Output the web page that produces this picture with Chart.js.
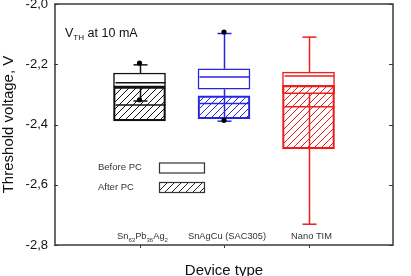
<!DOCTYPE html>
<html>
<head>
<meta charset="utf-8">
<script src="https://cdn.jsdelivr.net/npm/chart.js@4/dist/chart.umd.min.js"></script>
<style>
  html, body { margin: 0; padding: 0; background: #fff; overflow: hidden; }
  #wrap { width: 411px; height: 276px; overflow: hidden; }
  canvas { display: block; }
</style>
</head>
<body>
<div id="wrap"><canvas id="myChart" width="411" height="290"></canvas></div>
<script>
var categories = ["Sn_{63}Pb_{36}Ag_{2}", "SnAgCu (SAC305)", "Nano TIM"];
var seriesColors = ["#111111", "#2626e2", "#ee1d1d"];
// before PC boxes [low, high] and medians
var beforeBox = [[-2.275, -2.229], [-2.283, -2.215], [-2.298, -2.226]];
var beforeMedian = [-2.261, -2.242, -2.239];
// after PC boxes (hatched)
var afterBox = [[-2.388, -2.275], [-2.381, -2.305], [-2.481, -2.270]];
var afterMedian = [-2.335, -2.330, -2.341];
var upperWhisker = [-2.202, -2.098, -2.110];
var lowerWhisker = [-2.322, -2.389, -2.731];
var dotCategory = [1, 1, 2, 2];
var dotValues = [-2.196, -2.318, -2.093, -2.386];
var yTicks = [-2.8, -2.6, -2.4, -2.2, -2.0];
var legendLabels = ["Before PC", "After PC"];
var noteText = "V_{TH} at 10 mA";

var FONT = "'Liberation Sans', Arial, sans-serif";
var BOX_W = 52;
var CAP_W = 14;

function hatch(color) {
  var c = document.createElement("canvas");
  c.width = 7; c.height = 7;
  var g = c.getContext("2d");
  g.strokeStyle = color;
  g.lineWidth = 1;
  g.beginPath();
  g.moveTo(0, 7); g.lineTo(7, 0);
  g.moveTo(-1, 1); g.lineTo(1, -1);
  g.moveTo(6, 8); g.lineTo(8, 6);
  g.stroke();
  return g.createPattern(c, "repeat");
}

function richParts(text) {
  var parts = [], re = /_\{([^}]*)\}/g, last = 0, m;
  while ((m = re.exec(text))) {
    if (m.index > last) parts.push({ t: text.slice(last, m.index), sub: false });
    parts.push({ t: m[1], sub: true });
    last = re.lastIndex;
  }
  if (last < text.length) parts.push({ t: text.slice(last), sub: false });
  return parts;
}

function drawRich(ctx, text, x, y, size, align, color) {
  var parts = richParts(text);
  var w = 0;
  parts.forEach(function (p) {
    ctx.font = (p.sub ? size * 0.65 : size) + "px " + FONT;
    p.w = ctx.measureText(p.t).width;
    w += p.w;
  });
  var cx = align === "center" ? x - w / 2 : x;
  ctx.textAlign = "left";
  ctx.textBaseline = "alphabetic";
  ctx.fillStyle = color;
  parts.forEach(function (p) {
    ctx.font = (p.sub ? size * 0.65 : size) + "px " + FONT;
    ctx.fillText(p.t, cx, p.sub ? y + size * 0.28 : y);
    cx += p.w;
  });
}

function line(ctx, x1, y1, x2, y2) {
  ctx.beginPath();
  ctx.moveTo(x1, y1);
  ctx.lineTo(x2, y2);
  ctx.stroke();
}

var extras = {
  id: "extras",
  beforeDatasetsDraw: function (chart) {
    var ctx = chart.ctx, xs = chart.scales.x, ys = chart.scales.y;
    ctx.save();
    ctx.lineWidth = 1.5;
    categories.forEach(function (c, i) {
      var x = Math.round(xs.getPixelForValue(i + 1)) + 0.5;
      ctx.strokeStyle = seriesColors[i];
      var yTop = ys.getPixelForValue(upperWhisker[i]);
      var yBot = ys.getPixelForValue(lowerWhisker[i]);
      line(ctx, x, ys.getPixelForValue(beforeBox[i][1]), x, yTop);
      line(ctx, x - CAP_W / 2, yTop, x + CAP_W / 2, yTop);
      line(ctx, x, ys.getPixelForValue(beforeBox[i][0]), x, yBot);
      line(ctx, x - CAP_W / 2, yBot, x + CAP_W / 2, yBot);
    });
    ctx.restore();
  },
  afterDatasetsDraw: function (chart) {
    var ctx = chart.ctx, xs = chart.scales.x, ys = chart.scales.y, a = chart.chartArea;
    ctx.save();
    // medians
    ctx.lineWidth = 1.5;
    categories.forEach(function (c, i) {
      var x = Math.round(xs.getPixelForValue(i + 1)) + 0.5;
      ctx.strokeStyle = seriesColors[i];
      [beforeMedian[i], afterMedian[i]].forEach(function (m) {
        var y = ys.getPixelForValue(m);
        line(ctx, x - BOX_W / 2 + 1, y, x + BOX_W / 2 - 1, y);
      });
    });
    // frame and ticks
    ctx.strokeStyle = "#3a3a3a";
    ctx.lineWidth = 1.5;
    ctx.strokeRect(a.left, a.top, a.right - a.left, a.bottom - a.top);
    ctx.lineWidth = 1;
    yTicks.forEach(function (v) {
      var y = Math.round(ys.getPixelForValue(v)) + 0.5;
      line(ctx, a.left - 1, y, a.left + 3, y);
      line(ctx, a.right - 4, y, a.right, y);
    });
    categories.forEach(function (c, i) {
      var x = Math.round(xs.getPixelForValue(i + 1)) + 0.5;
      line(ctx, x, a.bottom, x, a.bottom + 3);
    });
    // category labels inside the plot
    categories.forEach(function (c, i) {
      drawRich(ctx, c, xs.getPixelForValue(i + 1) + 3, a.bottom - 6, 9.3, "center", "#333");
    });
    // annotation
    drawRich(ctx, noteText, a.left + 10, 36.5, 12.5, "left", "#111");
    // legend
    ctx.font = "9.5px " + FONT;
    ctx.fillStyle = "#333";
    ctx.textAlign = "left";
    ctx.textBaseline = "middle";
    ctx.fillText(legendLabels[0], 98, 167.5);
    ctx.fillText(legendLabels[1], 98, 187.5);
    ctx.strokeStyle = "#333";
    ctx.lineWidth = 1.2;
    ctx.fillStyle = "#fff";
    ctx.fillRect(159.5, 163, 45, 10);
    ctx.strokeRect(159.5, 163, 45, 10);
    ctx.fillStyle = hatch("#222");
    ctx.fillRect(159.5, 182.5, 45, 10);
    ctx.strokeRect(159.5, 182.5, 45, 10);
    ctx.restore();
  }
};

var ctx = document.getElementById("myChart");
var hatchFills = seriesColors.map(function (c) { return hatch(c); });

var myChart = new Chart(ctx, {
  type: "bar",
  data: {
    datasets: [
      {
        type: "scatter",
        label: "points",
        data: dotValues.map(function (v, i) { return { x: dotCategory[i], y: v }; }),
        pointRadius: 2.6,
        pointBackgroundColor: "#000",
        pointBorderWidth: 0,
        order: 1
      },
      {
        label: legendLabels[1],
        data: afterBox.map(function (b, i) { return { x: i + 1, y: b }; }),
        backgroundColor: hatchFills,
        borderColor: seriesColors,
        borderWidth: 1.5,
        borderSkipped: false,
        barThickness: BOX_W,
        grouped: false,
        order: 2
      },
      {
        label: legendLabels[0],
        data: beforeBox.map(function (b, i) { return { x: i + 1, y: b }; }),
        backgroundColor: "#fff",
        borderColor: seriesColors,
        borderWidth: 1.5,
        borderSkipped: false,
        barThickness: BOX_W,
        grouped: false,
        order: 3
      }
    ]
  },
  options: {
    responsive: false,
    animation: false,
    devicePixelRatio: 1,
    layout: { padding: { top: 1.5, right: 18, left: 0, bottom: 0 } },
    plugins: { legend: { display: false }, tooltip: { enabled: false } },
    scales: {
      x: {
        type: "linear",
        min: 0,
        max: 4,
        offset: false,
        grid: { display: false, drawTicks: false, offset: false },
        border: { display: false },
        ticks: { display: false },
        title: {
          display: true,
          text: "Device type",
          color: "#111",
          font: { family: FONT, size: 15 },
          padding: { top: 0, bottom: 10 }
        },
        afterFit: function (s) { s.height = 45; s.paddingLeft = 0; s.paddingRight = 0; }
      },
      y: {
        min: -2.8,
        max: -2.0,
        grid: { display: false, drawTicks: false },
        border: { display: false },
        afterBuildTicks: function (s) { s.ticks = yTicks.map(function (v) { return { value: v }; }); },
        ticks: {
          padding: 7,
          color: "#111",
          font: { family: FONT, size: 13 },
          callback: function (v) { return v.toFixed(1).replace(".", ","); }
        },
        title: {
          display: true,
          text: "Threshold voltage, V",
          color: "#111",
          font: { family: FONT, size: 15 },
          padding: { top: 0, bottom: 0 }
        },
        afterFit: function (s) { s.width = 55; s.paddingTop = 0; s.paddingBottom = 0; }
      }
    }
  },
  plugins: [extras]
});
</script>
</body>
</html>
